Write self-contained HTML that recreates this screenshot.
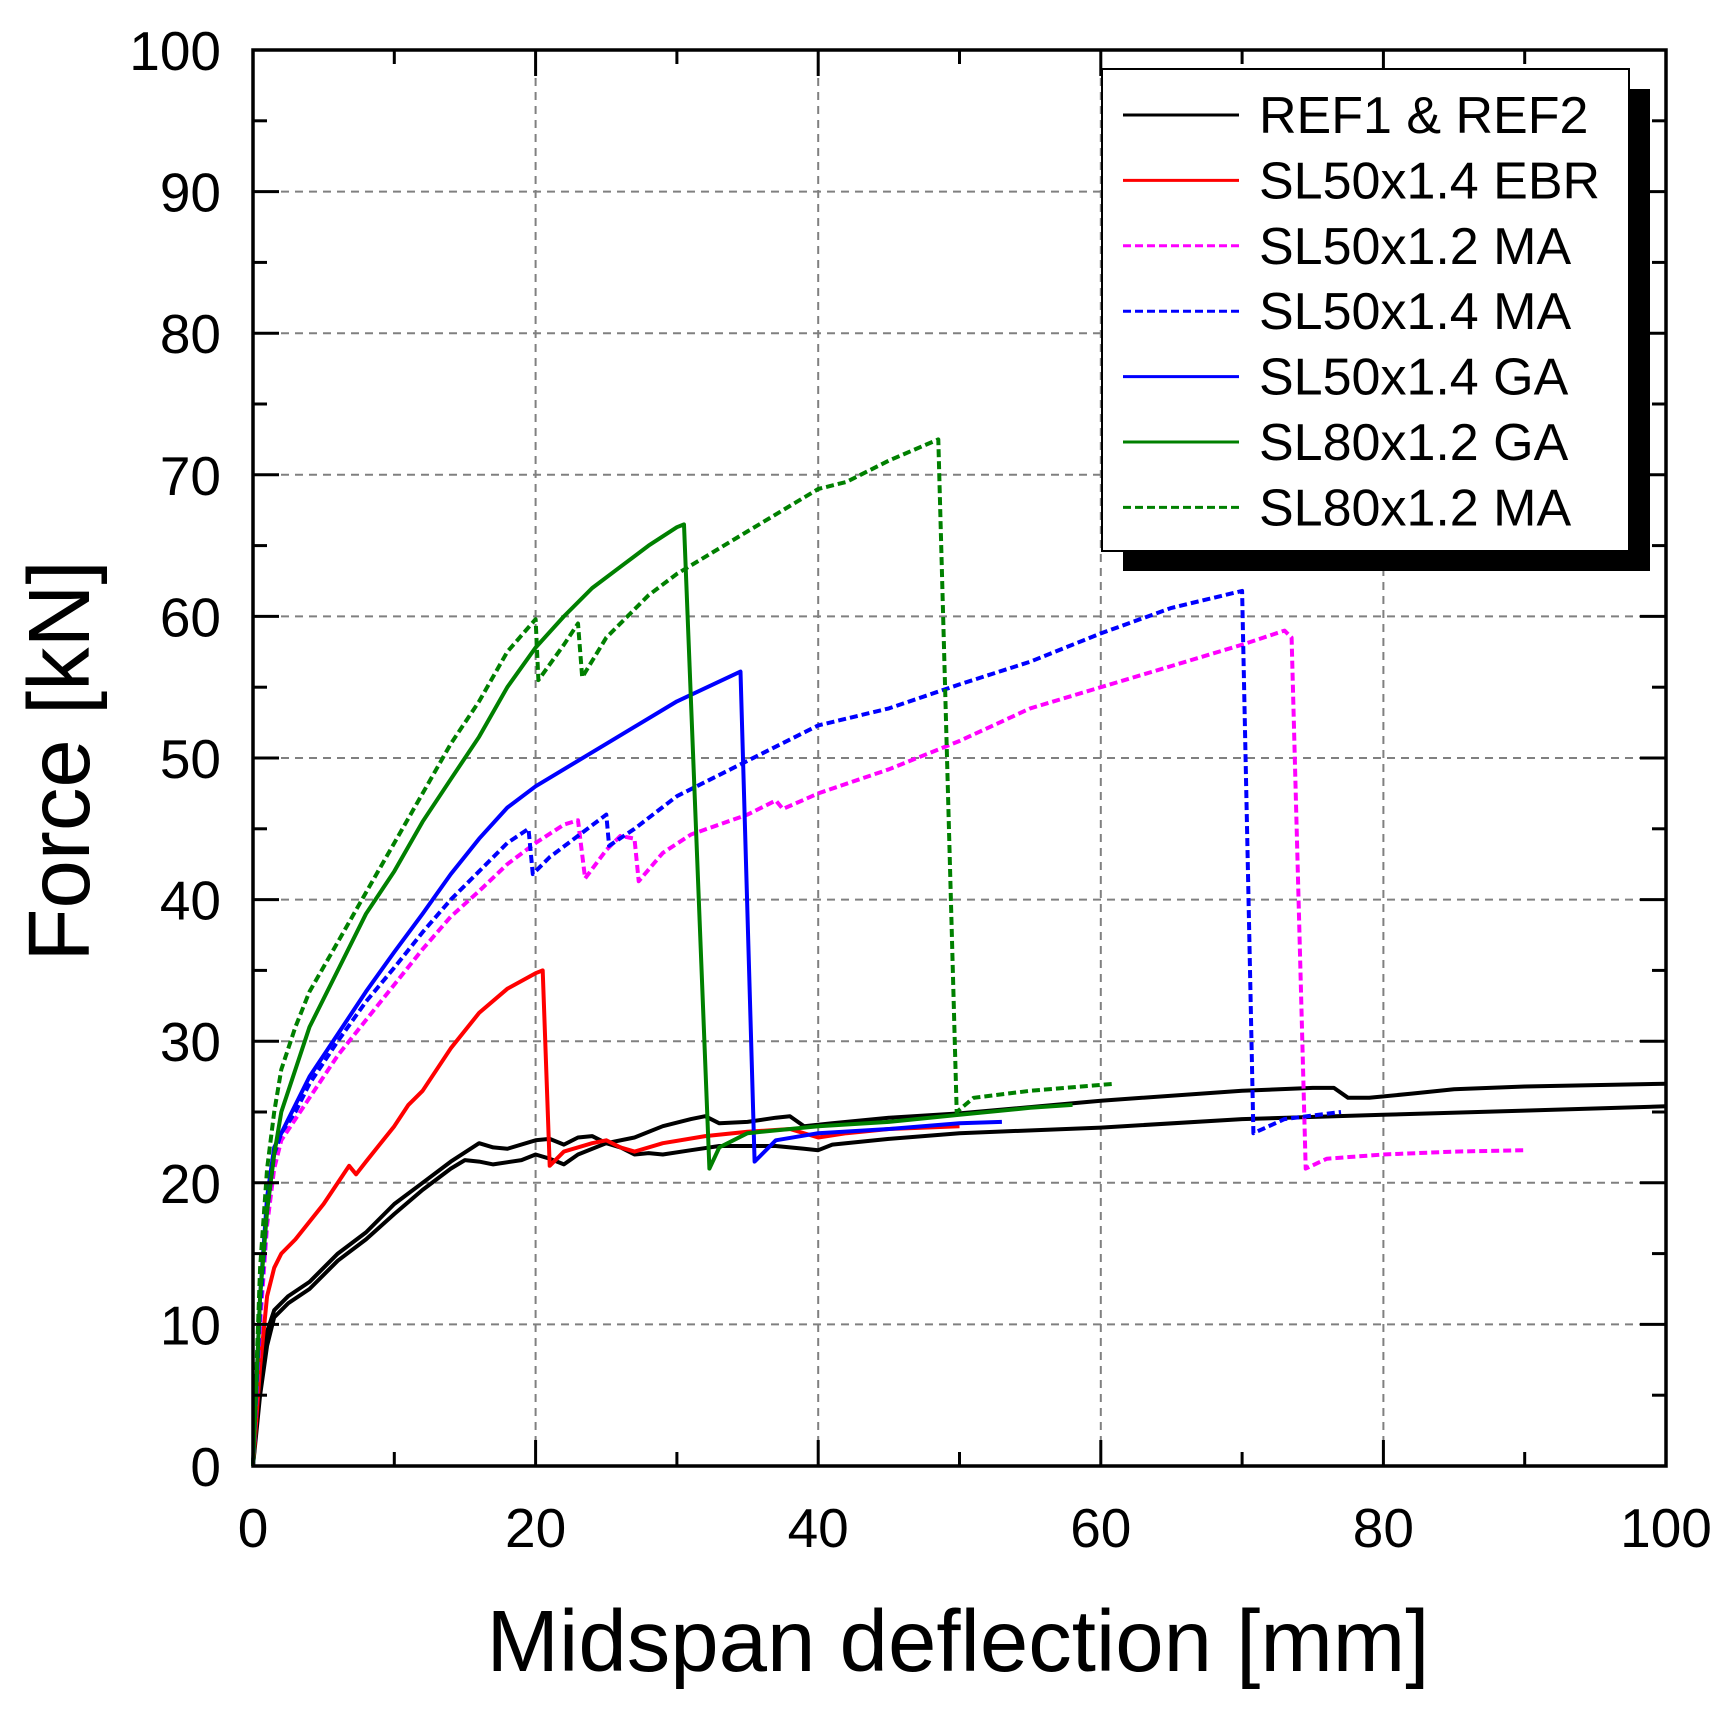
<!DOCTYPE html>
<html><head><meta charset="utf-8"><style>
html,body{margin:0;padding:0;background:#fff;}
svg{display:block;font-family:"Liberation Sans",Arial,sans-serif;}
</style></head><body>
<svg id="chart" width="1734" height="1710" viewBox="0 0 1734 1710" xmlns="http://www.w3.org/2000/svg">
<rect width="1734" height="1710" fill="#fff"/>
<g id="grid"></g>
<g id="series"></g>
<g id="axes"></g>
<text x="958" y="1671" font-size="87" text-anchor="middle">Midspan deflection [mm]</text>
<text transform="translate(89,761) rotate(-90)" font-size="87" text-anchor="middle">Force [kN]</text>
<g id="legend"></g>
</svg>
<script>
const xTicks = [0,20,40,60,80,100];
const yTicks = [0,10,20,30,40,50,60,70,80,90,100];
const seriesNames = ["REF1 & REF2","SL50x1.4 EBR","SL50x1.2 MA","SL50x1.4 MA","SL50x1.4 GA","SL80x1.2 GA","SL80x1.2 MA"];
const ref1X = [0,0.5,1,1.5,2.5,4,6,8,10,12,14,16,17,18,20,21,22,23,24,25,27,29,31,32,33,35,37,38,39,41,45,50,60,70,75,76.5,77.5,79,82,85,90,100];
const ref1Y = [0,6,9.5,11,12,13,15,16.5,18.5,20,21.5,22.8,22.5,22.4,23,23.1,22.7,23.2,23.3,22.8,23.2,24,24.5,24.7,24.2,24.3,24.6,24.7,24,24.2,24.6,24.9,25.8,26.5,26.7,26.7,26,26,26.3,26.6,26.8,27];
const ref2X = [0,0.5,1,1.5,2.5,4,6,8,10,12,14,15,16,17,19,20,21,22,23,25,26,27,28,29,31,33,35,37,39,40,41,45,50,60,70,80,90,100];
const ref2Y = [0,5,8.5,10.5,11.5,12.5,14.5,16,17.8,19.5,21,21.6,21.5,21.3,21.6,22,21.7,21.3,22,22.8,22.5,22,22.1,22,22.3,22.6,22.6,22.6,22.4,22.3,22.7,23.1,23.5,23.9,24.5,24.8,25.1,25.4];
const ebrX = [0,0.5,1,1.5,2,3,5,6,6.8,7.3,8,10,11,12,14,16,18,20,20.5,21,22,24,25,26,27,29,32,35,38,40,42,45,50];
const ebrY = [0,7,12,14,15,16,18.5,20,21.2,20.6,21.5,24,25.5,26.5,29.5,32,33.7,34.8,35,21.2,22.2,22.8,23,22.5,22.2,22.8,23.3,23.6,23.8,23.2,23.5,23.8,24];
const ma12X = [0,0.5,1,1.5,2,3,4,6,8,10,12,14,16,18,20,22,23,23.5,25,26,27,27.3,29,31,35,37,37.5,40,45,50,55,60,65,70,73,73.5,74.5,76,80,85,90];
const ma12Y = [0,10,17,21,23,24.5,26,29,31.5,34,36.5,38.8,40.6,42.5,44,45.3,45.6,41.5,43.5,44.5,44.3,41.3,43.3,44.6,46,47,46.4,47.5,49.2,51.2,53.5,55,56.5,58,59,58.5,21,21.7,22,22.2,22.3];
const ma14X = [0,0.5,1,1.5,2,3,4,6,8,10,12,14,16,18,19.5,19.8,21,23,25,25.2,27,30,35,40,45,50,55,60,65,70,70.8,73,77];
const ma14Y = [0,11,18,22,23.5,25,27,30,32.8,35.2,37.7,40,42,44,45,41.8,43,44.5,46,43.8,45,47.3,49.8,52.3,53.5,55.2,56.8,58.8,60.6,61.8,23.5,24.5,25];
const ga14X = [0,0.5,1,1.5,2,3,4,6,8,10,12,14,16,18,20,25,30,34.5,35.5,37,40,45,50,53];
const ga14Y = [0,12,19,22.5,23.5,25.5,27.5,30.5,33.5,36.3,39,41.8,44.3,46.5,48,51,54,56.1,21.5,23,23.5,23.8,24.2,24.3];
const ga80X = [0,0.5,1,1.5,2,3,4,6,8,10,12,14,16,18,20,22,24,26,28,30,30.5,32.3,33,35,40,45,50,55,58];
const ga80Y = [0,12,18,22,25,28,31,35,39,42,45.5,48.5,51.5,55,57.8,60,62,63.5,65,66.3,66.5,21,22.5,23.5,24,24.3,24.8,25.3,25.5];
const ma80X = [0,0.5,1,1.5,2,3,4,6,8,10,12,14,16,18,20,20.2,22,23,23.3,25,28,30,35,40,42,45,48.5,49.8,51,55,61];
const ma80Y = [0,14,21,25,28,31,33.5,37,40.5,44,47.5,51,54,57.5,59.8,55.5,58,59.5,55.7,58.5,61.5,63,66,69,69.5,71,72.5,25,26,26.5,27];

const L=253,R=1666,T=50,B=1466;
const sx = v => L + (v/100)*(R-L);
const sy = v => B - (v/100)*(B-T);
const NS="http://www.w3.org/2000/svg";
function mk(tag, attrs, parent){const e=document.createElementNS(NS,tag);for(const k in attrs)e.setAttribute(k,attrs[k]);parent.appendChild(e);return e;}

const grid=document.getElementById('grid');
xTicks.forEach(v=>{ if(v>0&&v<100){const g=mk('line',{x1:sx(v),x2:sx(v),y1:T,y2:B,stroke:'#808080','stroke-width':2,'stroke-dasharray':'8,6'},grid);

}});
yTicks.forEach(v=>{ if(v>0&&v<100){const g=mk('line',{x1:L,x2:R,y1:sy(v),y2:sy(v),stroke:'#808080','stroke-width':2,'stroke-dasharray':'8,6'},grid);

}});

const series=[
 {x:ref1X,y:ref1Y,c:'#000',d:null,n:'ref1-line'},
 {x:ref2X,y:ref2Y,c:'#000',d:null,n:'ref2-line'},
 {x:ebrX,y:ebrY,c:'#ff0000',d:null,n:'sl50x14-ebr-line'},
 {x:ma12X,y:ma12Y,c:'#ff00ff',d:'8,4',n:'sl50x12-ma-line'},
 {x:ma14X,y:ma14Y,c:'#0000ff',d:'8,4',n:'sl50x14-ma-line'},
 {x:ga14X,y:ga14Y,c:'#0000ff',d:null,n:'sl50x14-ga-line'},
 {x:ga80X,y:ga80Y,c:'#008000',d:null,n:'sl80x12-ga-line'},
 {x:ma80X,y:ma80Y,c:'#008000',d:'8,4',n:'sl80x12-ma-line'}
];
const sg=document.getElementById('series');
series.forEach(s=>{
 const pts=s.x.map((v,i)=>sx(v).toFixed(1)+','+sy(s.y[i]).toFixed(1)).join(' ');
 const a={points:pts,fill:'none',stroke:s.c,'stroke-width':4,'stroke-linejoin':'round'};
 if(s.d)a['stroke-dasharray']=s.d;
 const p=mk('polyline',a,sg);
 
 
});

const ax=document.getElementById('axes');
const fr=mk('rect',{x:L,y:T,width:R-L,height:B-T,fill:'none',stroke:'#000','stroke-width':3.5},ax);


for(let v=0;v<=100;v+=10){
 const maj=v%20===0, len=maj?26:14;
 mk('line',{x1:sx(v),x2:sx(v),y1:B,y2:B-len,stroke:'#000','stroke-width':3},ax);
 mk('line',{x1:sx(v),x2:sx(v),y1:T,y2:T+len,stroke:'#000','stroke-width':3},ax);
}
for(let v=0;v<=100;v+=5){
 const maj=v%10===0, len=maj?26:14;
 mk('line',{x1:L,x2:L+len,y1:sy(v),y2:sy(v),stroke:'#000','stroke-width':3},ax);
 mk('line',{x1:R,x2:R-len,y1:sy(v),y2:sy(v),stroke:'#000','stroke-width':3},ax);
}
xTicks.forEach(v=>{const t=mk('text',{x:sx(v),y:1547,'font-size':55,'text-anchor':'middle'},ax);t.textContent=v;

});
yTicks.forEach(v=>{const t=mk('text',{x:221,y:sy(v)+20,'font-size':55,'text-anchor':'end'},ax);t.textContent=v;

});

const lg=document.getElementById('legend');
mk('rect',{x:1123,y:89,width:527,height:482,fill:'#000'},lg);
mk('rect',{x:1102,y:69,width:527,height:482,fill:'#fff',stroke:'#000','stroke-width':2},lg);
const legStyles=[['#000',null],['#ff0000',null],['#ff00ff','8,4'],['#0000ff','8,4'],['#0000ff',null],['#008000',null],['#008000','8,4']];
seriesNames.forEach((n,i)=>{
 const y=115+i*65.4;
 const a={x1:1123,x2:1239,y1:y,y2:y,stroke:legStyles[i][0],'stroke-width':3};
 if(legStyles[i][1])a['stroke-dasharray']=legStyles[i][1];
 const ln=mk('line',a,lg);
 
 
 const t=mk('text',{x:1259,y:y+18,'font-size':52},lg);
 t.textContent=n;
 
 
});
</script>
</body></html>
